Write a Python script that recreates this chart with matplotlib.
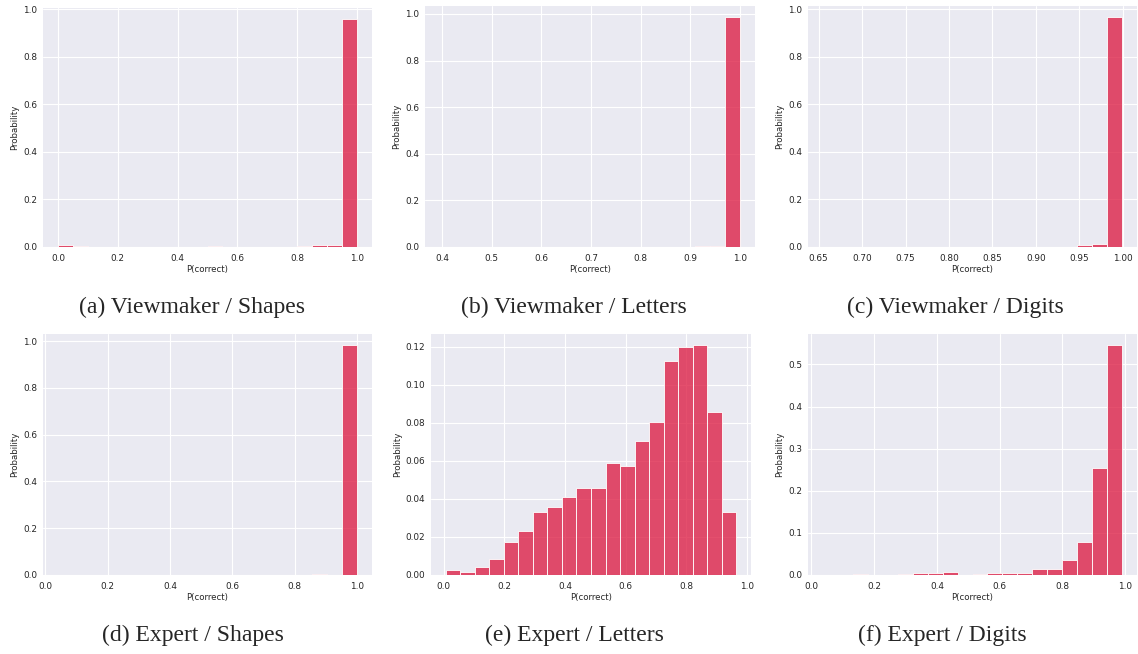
import numpy as np
import matplotlib.pyplot as plt
import seaborn as sns
from matplotlib.colors import to_rgba

sns.set_style("darkgrid")

# histogram heights (stat = probability), 20 equal bins between lo and hi
n_bins = 20

vm_shapes_range = (0.0, 1.0)
vm_shapes = [0.007, 0.003, 0.0, 0.001, 0.0, 0.001, 0.001, 0.0, 0.0, 0.0,
             0.004, 0.0, 0.001, 0.0, 0.0, 0.0, 0.003, 0.007, 0.007, 0.958]

vm_letters_range = (0.396, 1.0)
vm_letters = [0.001, 0.0, 0.0, 0.0, 0.0, 0.0, 0.001, 0.0, 0.0, 0.0,
              0.0, 0.001, 0.0, 0.0, 0.0, 0.001, 0.0, 0.004, 0.004, 0.985]

vm_digits_range = (0.655, 0.999)
vm_digits = [0.001, 0.0, 0.0, 0.0, 0.0, 0.0, 0.0, 0.001, 0.0, 0.0,
             0.001, 0.0, 0.0, 0.001, 0.0, 0.0, 0.0, 0.007, 0.014, 0.965]

ex_shapes_range = (0.041, 1.0)
ex_shapes = [0.001, 0.001, 0.0, 0.0, 0.001, 0.0, 0.0, 0.0, 0.001, 0.001,
             0.0, 0.001, 0.001, 0.0, 0.001, 0.0, 0.001, 0.003, 0.0, 0.981]

ex_letters_range = (0.006, 0.965)
ex_letters = [0.0025, 0.0016, 0.0042, 0.0083, 0.0174, 0.0232, 0.0332, 0.0357, 0.0408, 0.0457,
              0.0457, 0.0590, 0.0574, 0.0706, 0.0806, 0.1123, 0.1198, 0.1207, 0.0856, 0.0330]

ex_digits_range = (0.037, 0.990)
ex_digits = [0.001, 0.0, 0.003, 0.0, 0.0, 0.002, 0.004, 0.004, 0.006, 0.0,
             0.003, 0.004, 0.004, 0.004, 0.015, 0.015, 0.035, 0.079, 0.255, 0.545]

captions = ["(a) Viewmaker / Shapes", "(b) Viewmaker / Letters", "(c) Viewmaker / Digits",
            "(d) Expert / Shapes", "(e) Expert / Letters", "(f) Expert / Digits"]

panels = [(vm_shapes_range, vm_shapes), (vm_letters_range, vm_letters), (vm_digits_range, vm_digits),
          (ex_shapes_range, ex_shapes), (ex_letters_range, ex_letters), (ex_digits_range, ex_digits)]

W, H = 1138, 654
# axes boxes in pixels: left, right, top, bottom
boxes = [(43, 372, 8, 247), (425, 755, 6, 247), (808, 1137, 6, 247),
         (43, 372, 334, 575), (431, 751, 334, 575), (808, 1137, 334, 575)]
cap_x = [192, 574, 955, 193, 574, 942]
cap_y = [307, 307, 307, 635, 635, 635]

fig = plt.figure(figsize=(W / 100, H / 100), dpi=100)
face = to_rgba("crimson", 0.75)

for i, ((lo, hi), heights) in enumerate(panels):
    l, r, t, b = boxes[i]
    ax = fig.add_axes([l / W, 1 - b / H, (r - l) / W, (b - t) / H])
    edges = np.linspace(lo, hi, n_bins + 1)
    ax.bar(edges[:-1], heights, width=np.diff(edges), align="edge",
           color=face, edgecolor="white", linewidth=0.6)
    ax.tick_params(labelsize=6.4, colors=".15")
    ax.tick_params(axis="x", pad=1.5)
    ax.tick_params(axis="y", pad=0.8)
    ax.set_xlabel("P(correct)", fontsize=6.2, labelpad=1.5, color=".15")
    ax.set_ylabel("Probability", fontsize=6.2, labelpad=2.5, color=".15")
    if i == 2:
        ax.xaxis.set_major_formatter(plt.FormatStrFormatter("%.2f"))
    for s in ax.spines.values():
        s.set_visible(False)
    fig.text(cap_x[i] / W, 1 - cap_y[i] / H, captions[i], ha="center", va="center",
             fontsize=17, family="Liberation Serif")

fig.savefig("out.png", dpi=100)
